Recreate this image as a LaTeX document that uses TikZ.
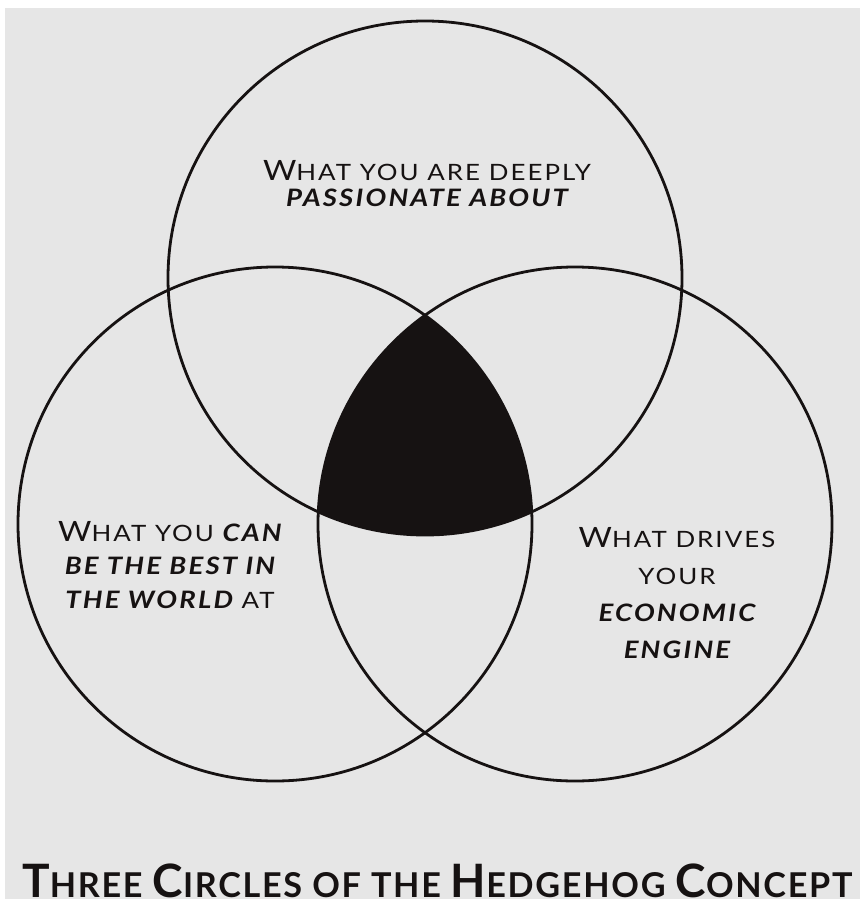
\documentclass[tikz,border=0pt]{standalone}
\usepackage{fontspec}
\setmainfont{Lato}
\newfontfamily\lblfont{Lato}[FakeStretch=1.15, LetterSpace=9]
\usetikzlibrary{positioning}
\definecolor{paper}{HTML}{E6E6E6}
\definecolor{ink}{HTML}{161212}
% fake small caps: the big first letters and the bold italic words
\newcommand\capbig[1]{{\fontsize{28}{\baselineskip}\selectfont #1}}
\newcommand\capbold[1]{{\bfseries\itshape\fontsize{24}{\baselineskip}\selectfont #1}}
\newcommand\captitle[1]{{\fontsize{46}{\baselineskip}\selectfont #1}}

\begin{document}
\begin{tikzpicture}[x=1pt, y=-1pt,
    ring/.style={circle, draw=ink, line width=2.8pt, minimum size=514pt,
      inner sep=0pt},
    lbl/.style={align=center, text=ink, inner sep=0pt},
    ttl/.style={anchor=base west, text=ink, inner sep=0pt,
      font=\bfseries\fontsize{34.2}{38}\selectfont\addfontfeatures{LetterSpace=5}}
  ]
  \useasboundingbox (0,0) rectangle (860,899);
  \fill[white] (0,0) rectangle (860,899);
  \fill[paper] (5,8) rectangle (860,899);
  % === Centre: where all three circles meet ===
  \begin{scope}
    \clip (425,278) circle (257pt);
    \clip (275,524) circle (257pt);
    \fill[ink] (575,524) circle (257pt);
  \end{scope}
  % === The three circles ===
  \node[ring] (pass) at (425,278) {};
  \node[ring] (best) at (275,524) {};
  \node[ring] (econ) at (575,524) {};
  % === Labels ===
  \node[lbl, font=\lblfont\fontsize{22.5}{26}\selectfont]
  (passtxt) at (427,184)
  {\capbig{W}HAT YOU ARE DEEPLY\\ \capbold{PASSIONATE ABOUT}};
  \node[lbl, font=\lblfont\fontsize{22.5}{33.5}\selectfont]
  (besttxt) at (170,565)
  {\capbig{W}HAT YOU \capbold{CAN}\\ \capbold{BE THE BEST IN}\\
    \capbold{THE WORLD} AT};
  \node[lbl, font=\lblfont\fontsize{22.5}{37}\selectfont]
  (econtxt) at (677,593)
  {\capbig{W}HAT DRIVES\\ YOUR\\ \capbold{ECONOMIC}\\ \capbold{ENGINE}};
  % Title
  \node[ttl] (title) at (22,897)
  {\captitle{T}HREE \captitle{C}IRCLES OF THE \captitle{H}EDGEHOG
    \captitle{C}ONCEPT};
\end{tikzpicture}
\end{document}
